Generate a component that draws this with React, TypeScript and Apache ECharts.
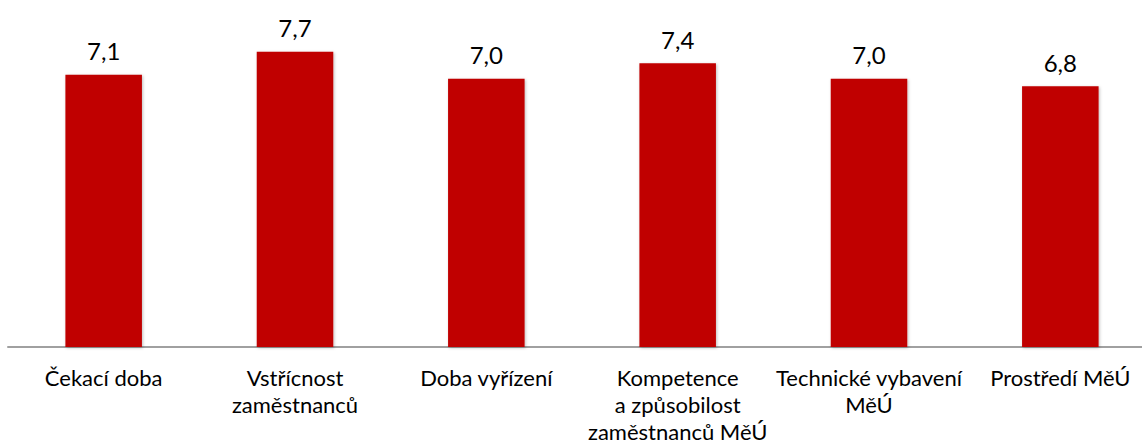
import React, { useEffect, useRef } from "react";
import * as echarts from "echarts";

const categories = [
  "Čekací doba",
  "Vstřícnost\nzaměstnanců",
  "Doba vyřízení",
  "Kompetence\na způsobilost\nzaměstnanců MěÚ",
  "Technické vybavení\nMěÚ",
  "Prostředí MěÚ",
];
const values = [7.1, 7.7, 7.0, 7.4, 7.0, 6.8];

export default function App() {
  const ref = useRef<HTMLDivElement>(null);
  useEffect(() => {
    const chart = echarts.init(ref.current!, null, { renderer: "svg" });
    chart.setOption({
      animation: false,
      grid: {
        left: 8,
        top: 2,
        height: 345,
        width: 1148,
        containLabel: false,
        outerBoundsMode: "none",
      },
      xAxis: {
        type: "category",
        data: categories,
        axisLine: { lineStyle: { color: "#a0a0a0", width: 2 } },
        axisTick: { show: false },
        axisLabel: {
          interval: 0,
          margin: 17,
          fontFamily: "Lato, 'Open Sans', sans-serif",
          fontSize: 22,
          lineHeight: 27,
          color: "#000",
          align: "center",
        },
      },
      yAxis: {
        type: "value",
        min: 0,
        max: 9,
        show: false,
        splitLine: { show: false },
      },
      series: [
        {
          type: "bar",
          data: values,
          barCategoryGap: "60%",
          itemStyle: {
            color: "#C00000",
            shadowBlur: 3,
            shadowColor: "rgba(0,0,0,0.25)",
            shadowOffsetX: 1,
            shadowOffsetY: 1,
          },
          label: {
            show: true,
            position: "top",
            distance: 12,
            fontFamily: "Lato, 'Open Sans', sans-serif",
            fontSize: 24,
            color: "#000",
            formatter: (p: any) => p.value.toFixed(1).replace(".", ","),
          },
        },
      ],
    });
    return () => chart.dispose();
  }, []);
  return (
    <div
      style={{
        position: "fixed",
        left: 0,
        top: 0,
        width: 1142,
        height: 445,
        overflow: "hidden",
        background: "#fff",
      }}
    >
      <div ref={ref} style={{ width: 1170, height: 445 }} />
    </div>
  );
}
